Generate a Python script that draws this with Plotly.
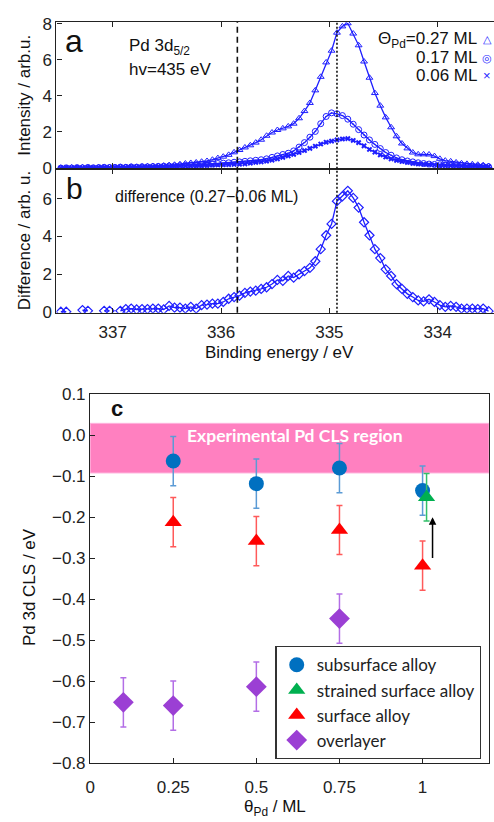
import plotly.graph_objects as go

# ---------------- XPS spectra (panels a, b) ----------------
binding_energy = [
    337.48, 337.43, 337.38, 337.33, 337.28, 337.23, 337.18, 337.13, 337.08, 337.03,
    336.98, 336.93, 336.88, 336.83, 336.78, 336.73, 336.68, 336.63, 336.58, 336.53,
    336.48, 336.43, 336.38, 336.33, 336.28, 336.23, 336.18, 336.13, 336.08, 336.03,
    335.98, 335.93, 335.88, 335.83, 335.78, 335.73, 335.68, 335.63, 335.58, 335.53,
    335.48, 335.43, 335.38, 335.33, 335.28, 335.23, 335.18, 335.13, 335.08, 335.03,
    334.98, 334.93, 334.88, 334.83, 334.78, 334.73, 334.68, 334.63, 334.58, 334.53,
    334.48, 334.43, 334.38, 334.33, 334.28, 334.23, 334.18, 334.13, 334.08, 334.03,
    333.98, 333.93, 333.88, 333.83, 333.78, 333.73, 333.68, 333.63, 333.58, 333.53,
]

intensity_027 = [
    0.01, -0.02, 0.02, 0.0, 0.03, 0.01, 0.0, 0.03, 0.02, 0.04,
    0.03, 0.05, 0.04, 0.06, 0.05, 0.07, 0.08, 0.10, 0.09, 0.12,
    0.15, 0.17, 0.20, 0.24, 0.27, 0.30, 0.34, 0.38, 0.45, 0.54,
    0.62, 0.72, 0.86, 0.99, 1.13, 1.25, 1.40, 1.56, 1.78, 1.96,
    2.10, 2.19, 2.30, 2.45, 2.75, 3.15, 3.60, 4.30, 5.05, 5.85,
    6.50, 7.50, 7.85, 8.02, 7.45, 6.80, 5.90, 5.00, 4.15, 3.45,
    2.80, 2.25, 1.75, 1.35, 1.08, 0.85, 0.75, 0.75, 0.74, 0.65,
    0.50, 0.40, 0.36, 0.30, 0.25, 0.22, 0.20, 0.17, 0.15, 0.10,
]

intensity_017 = [
    -0.02, 0.0, -0.01, 0.01, 0.0, 0.02, 0.0, 0.01, 0.03, 0.02,
    0.02, 0.04, 0.03, 0.05, 0.04, 0.06, 0.06, 0.07, 0.08, 0.09,
    0.10, 0.10, 0.12, 0.13, 0.15, 0.17, 0.18, 0.20, 0.22, 0.24,
    0.26, 0.28, 0.31, 0.33, 0.36, 0.39, 0.42, 0.45, 0.50, 0.58,
    0.66, 0.74, 0.81, 0.94, 1.15, 1.40, 1.70, 2.02, 2.45, 2.85,
    3.05, 3.00, 2.90, 2.70, 2.42, 2.12, 1.82, 1.55, 1.30, 1.07,
    0.85, 0.70, 0.55, 0.45, 0.38, 0.33, 0.28, 0.24, 0.21, 0.19,
    0.17, 0.15, 0.14, 0.13, 0.12, 0.10, 0.09, 0.08, 0.08, 0.06,
]

intensity_006 = [
    0.0, 0.02, -0.01, 0.01, 0.0, 0.02, 0.01, 0.03, 0.02, 0.02,
    0.03, 0.04, 0.03, 0.05, 0.04, 0.05, 0.06, 0.05, 0.07, 0.08,
    0.08, 0.09, 0.10, 0.10, 0.11, 0.12, 0.13, 0.14, 0.15, 0.16,
    0.17, 0.18, 0.19, 0.20, 0.22, 0.26, 0.30, 0.33, 0.37, 0.43,
    0.50, 0.58, 0.66, 0.75, 0.85, 0.96, 1.08, 1.20, 1.32, 1.42,
    1.48, 1.55, 1.60, 1.62, 1.52, 1.40, 1.22, 1.02, 0.87, 0.72,
    0.60, 0.50, 0.41, 0.35, 0.30, 0.25, 0.22, 0.20, 0.18, 0.16,
    0.14, 0.13, 0.12, 0.11, 0.10, 0.09, 0.08, 0.07, 0.07, 0.06,
]

difference = [
    0.0, 0.0, None, None, 0.09, 0.05, None, None, 0.05, 0.05,
    None, 0.05, 0.14, 0.17, 0.12, 0.14, 0.14, 0.17, 0.17, 0.12,
    0.31, 0.22, 0.22, 0.17, 0.26, 0.17, 0.35, 0.38, 0.43, 0.43,
    0.52, 0.69, 0.78, 0.86, 1.00, 1.07, 1.12, 1.21, 1.30, 1.47,
    1.69, 1.64, 1.90, 1.81, 1.99, 2.16, 2.33, 2.68, 3.32, 4.06,
    4.66, 5.87, 6.13, 6.42, 6.04, 5.53, 4.75, 4.06, 3.32, 2.85,
    2.25, 1.90, 1.47, 1.21, 0.95, 0.78, 0.60, 0.55, 0.66, 0.52,
    0.35, 0.26, 0.31, 0.26, 0.17, 0.17, 0.17, 0.14, 0.17, 0.03,
]

energy_ticks = [337, 336, 335, 334]
dashed_energy = 335.85
dotted_energy = 334.93

# ---------------- Core-level shifts (panel c) ----------------
coverage_ticks = [0, 0.25, 0.5, 0.75, 1]
coverage_ticktext = ["0", "0.25", "0.5", "0.75", "1"]

subsurface_x = [0.25, 0.5, 0.75, 1.0]
subsurface_y = [-0.063, -0.118, -0.080, -0.135]
subsurface_err = [0.06, 0.06, 0.06, 0.06]

strained_x = [1.012]
strained_y = [-0.151]
strained_err = [0.058]

surface_x = [0.25, 0.5, 0.75, 1.0]
surface_y = [-0.212, -0.258, -0.231, -0.318]
surface_err = [0.06, 0.06, 0.06, 0.06]

overlayer_x = [0.1, 0.25, 0.5, 0.75]
overlayer_y = [-0.651, -0.659, -0.613, -0.447]
overlayer_err = [0.06, 0.06, 0.06, 0.06]

exp_region = [-0.092, 0.029]
arrow_x = 1.03
arrow_from, arrow_to = -0.303, -0.200

BLUE = "#1f1fff"
FONT = "Liberation Sans, Arial, sans-serif"
CAL = "Lato, 'Open Sans', sans-serif"

fig = go.Figure()

# panel a spectra
fig.add_trace(go.Scatter(x=binding_energy, y=intensity_027, mode="lines+markers",
                         line=dict(color=BLUE, width=1.3),
                         marker=dict(symbol="triangle-up-open", size=6, color=BLUE, line=dict(width=1)),
                         xaxis="x", yaxis="y", showlegend=False))
fig.add_trace(go.Scatter(x=binding_energy, y=intensity_017, mode="lines+markers",
                         line=dict(color=BLUE, width=1.3),
                         marker=dict(symbol="circle-open-dot", size=6, color=BLUE, line=dict(width=1)),
                         xaxis="x", yaxis="y", showlegend=False))
fig.add_trace(go.Scatter(x=binding_energy, y=intensity_006, mode="lines+markers",
                         line=dict(color=BLUE, width=1.3),
                         marker=dict(symbol="x", size=5, color=BLUE, line=dict(width=0)),
                         xaxis="x", yaxis="y", showlegend=False))

# panel b difference spectrum
fig.add_trace(go.Scatter(x=binding_energy, y=difference, mode="lines+markers",
                         line=dict(color=BLUE, width=1.3),
                         marker=dict(symbol="diamond-open", size=7, color=BLUE, line=dict(width=1.2)),
                         xaxis="x2", yaxis="y2", showlegend=False))

# panel c core-level shifts
def cls_trace(x, y, err, name, symbol, size, color, err_color):
    return go.Scatter(x=x, y=y, mode="markers", name=name,
                      marker=dict(symbol=symbol, size=size, color=color, line=dict(width=0)),
                      error_y=dict(type="data", array=err, visible=True, color=err_color,
                                   thickness=1.5, width=3),
                      xaxis="x3", yaxis="y3")

fig.add_trace(cls_trace(subsurface_x, subsurface_y, subsurface_err, "subsurface alloy",
                        "circle", 15, "#0070c0", "#5b9bd5"))
fig.add_trace(cls_trace(strained_x, strained_y, strained_err, "strained surface alloy",
                        "triangle-up", 15, "#00b050", "#33c06a"))
fig.add_trace(cls_trace(surface_x, surface_y, surface_err, "surface alloy",
                        "triangle-up", 15, "#ff0000", "#ff5a5a"))
fig.add_trace(cls_trace(overlayer_x, overlayer_y, overlayer_err, "overlayer",
                        "diamond", 16, "#9b3fd4", "#b36ee6"))

axis_common = dict(showgrid=False, zeroline=False, showline=True, linecolor="#222",
                   linewidth=1.3, ticks="inside", ticklen=5, tickcolor="#222",
                   tickfont=dict(family=FONT, size=17, color="#222"))

fig.update_layout(
    width=494, height=822,
    margin=dict(l=0, r=0, t=0, b=0),
    paper_bgcolor="white", plot_bgcolor="white",
    xaxis=dict(domain=[0.1053, 1.0], range=[337.52, 333.48], tickvals=energy_ticks,
               showticklabels=False, mirror="ticks", anchor="y", **axis_common),
    yaxis=dict(domain=[0.8013, 0.9842], range=[-0.04, 8.11], tickvals=[0, 2, 4, 6, 8],
               anchor="x", **axis_common),
    xaxis2=dict(domain=[0.1053, 1.0], range=[337.52, 333.48], tickvals=energy_ticks,
                matches="x", mirror="ticks", anchor="y2", ticklabelstandoff=4, **axis_common),
    yaxis2=dict(domain=[0.6218, 0.8013], range=[-0.05, 7.6], tickvals=[0, 2, 4, 6],
                anchor="x2", **axis_common),
    xaxis3=dict(domain=[0.1741, 0.9899], range=[0, 1.2], tickvals=coverage_ticks,
                ticktext=coverage_ticktext, mirror=True, anchor="y3",
                ticklabelstandoff=8, **axis_common),
    yaxis3=dict(domain=[0.0605, 0.5203], range=[-0.8, 0.1], dtick=0.1, tick0=0,
                tickformat=".1f", mirror=True, anchor="x3", **axis_common),
    legend=dict(x=0.553, y=0.2068, xanchor="left", yanchor="top",
                bgcolor="white", bordercolor="#333", borderwidth=1.3,
                font=dict(family=CAL, size=17, color="#222"),
                itemwidth=30, tracegroupgap=0),
)

# reference energies spanning panels a and b
for e, dash in ((dashed_energy, "6px,4px"), (dotted_energy, "2px,2px")):
    fig.add_shape(type="line", xref="x", yref="paper", x0=e, x1=e,
                  y0=0.6218, y1=0.9842, line=dict(color="#111", width=1.6, dash=dash))

# experimental CLS band
fig.add_shape(type="rect", xref="x3 domain", yref="y3", x0=0, x1=1,
              y0=exp_region[0], y1=exp_region[1], fillcolor="#ff80c0",
              line=dict(color="#ffb3de", width=1), layer="below")

annotations = [
    dict(text="a", x=70, y=33, font=dict(size=32)),
    dict(text="b", x=70, y=184, font=dict(size=30)),
    dict(text="Pd 3d<sub>5/2</sub>", x=123, y=39, xanchor="left", font=dict(size=17)),
    dict(text="hv=435 eV", x=123, y=62, xanchor="left", font=dict(size=17)),
    dict(text="Θ<sub>Pd</sub>=0.27 ML", x=479, y=32, xanchor="right", font=dict(size=17)),
    dict(text="0.17 ML", x=479, y=50, xanchor="right", font=dict(size=17)),
    dict(text="0.06 ML", x=479, y=68, xanchor="right", font=dict(size=17)),
    dict(text="△", x=487, y=31, font=dict(size=11, color=BLUE)),
    dict(text="◎", x=487, y=50, font=dict(size=11, color=BLUE)),
    dict(text="×", x=487, y=68, font=dict(size=13, color=BLUE)),
    dict(text="difference (0.27−0.06 ML)", x=109, y=192, xanchor="left", font=dict(size=16)),
    dict(text="Intensity / arb.u.", x=20, y=88, textangle=-90, font=dict(size=17)),
    dict(text="Difference / arb. u.", x=20, y=237, textangle=-90, font=dict(size=17)),
    dict(text="Binding energy / eV", x=277, y=352, font=dict(size=17)),
    dict(text="<b>c</b>", x=113, y=409, font=dict(size=22)),
    dict(text="Pd 3d CLS / eV", x=25, y=592, textangle=-90, font=dict(size=17)),
    dict(text="θ<sub>Pd</sub> / ML", x=273, y=818, font=dict(size=17)),
]
for a in annotations:
    f = dict(family=FONT, color="#111")
    f.update(a.pop("font"))
    a.setdefault("xanchor", "center")
    fig.add_annotation(xref="paper", yref="paper", x=a.pop("x") / 494, y=1 - a.pop("y") / 822,
                       yanchor="middle", showarrow=False, font=f, **a)

fig.add_annotation(xref="x3", yref="y3", x=0.616, y=-0.001, text="<b>Experimental Pd CLS region</b>",
                   xanchor="center", yanchor="middle",
                   showarrow=False, font=dict(family=CAL, size=17.5, color="white"))

fig.add_annotation(xref="x3", yref="y3", axref="x3", ayref="y3",
                   x=arrow_x, y=arrow_to, ax=arrow_x, ay=arrow_from,
                   showarrow=True, arrowhead=2, arrowsize=1, arrowwidth=1.5, arrowcolor="black", text="")

fig.write_html("out.html")
